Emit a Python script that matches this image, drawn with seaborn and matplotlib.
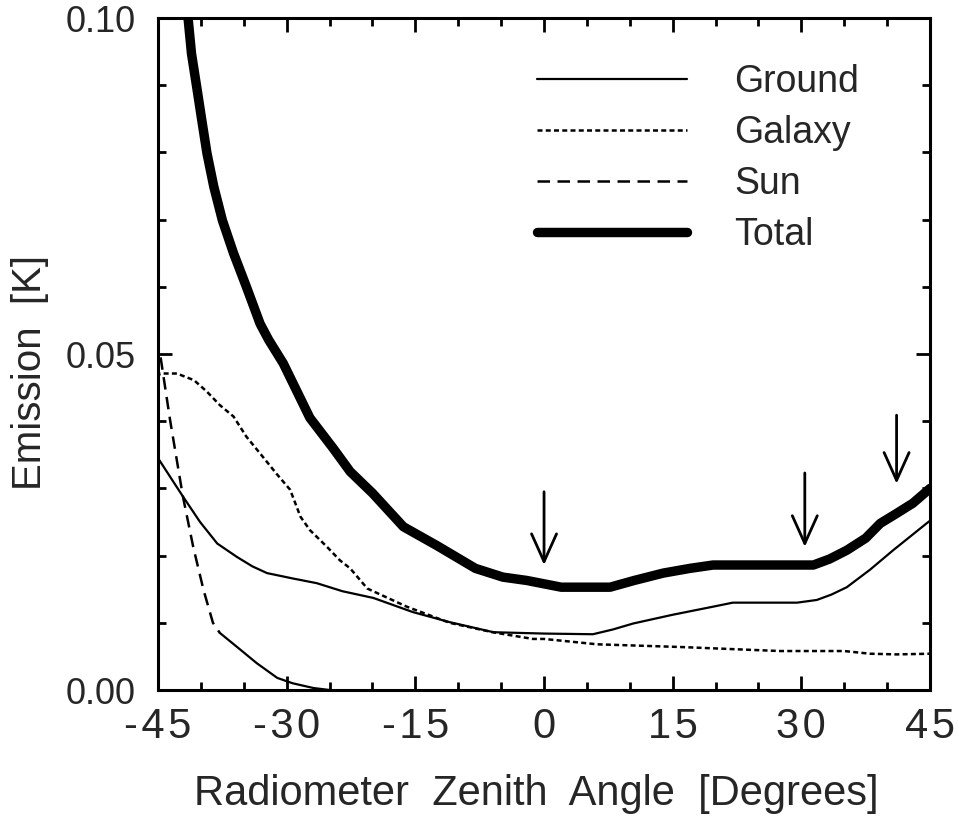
import matplotlib
matplotlib.use("Agg")
import matplotlib.pyplot as plt
import seaborn as sns

# Значения
total_angle = [-42.0, -41.5, -41.1, -40.5, -39.9, -39.3, -38.5, -37.5, -36.2, -34.7, -33.1,
               -32.1, -30.4, -27.3, -24.6, -22.6, -20.0, -16.4, -12.5, -8.0, -4.8, -2.0, 0.0,
               2.0, 7.7, 10.5, 13.9, 17.0, 19.7, 31.4, 33.3, 35.3, 37.5, 39.2, 41.0, 43.0, 45.0]
total_emission = [0.105, 0.100, 0.0947, 0.0898, 0.0848, 0.0799, 0.0749, 0.0699, 0.0650, 0.0600,
                  0.0545, 0.0521, 0.0486, 0.0405, 0.0360, 0.0325, 0.0293, 0.0243, 0.0215, 0.0181,
                  0.0168, 0.0163, 0.0158, 0.0153, 0.0153, 0.0163, 0.0174, 0.0181, 0.0186, 0.0186,
                  0.0195, 0.0208, 0.0226, 0.0248, 0.0262, 0.0278, 0.0300]

ground_angle = [-45.0, -42.1, -40.1, -38.1, -35.8, -34.0, -32.3, -29.3, -26.5, -23.5, -19.9,
                -15.3, -11.0, -5.9, 0.0, 5.7, 8.0, 10.4, 15.0, 19.7, 22.0, 29.5, 31.8, 33.5,
                35.3, 38.0, 40.7, 44.6, 45.0]
ground_emission = [0.0345, 0.0288, 0.0250, 0.0218, 0.0198, 0.0184, 0.0174, 0.0166, 0.0159,
                   0.0147, 0.0137, 0.0116, 0.0101, 0.0086, 0.0084, 0.0083, 0.0090, 0.0099,
                   0.0112, 0.0124, 0.0130, 0.0130, 0.0134, 0.0142, 0.0153, 0.0179, 0.0208,
                   0.0248, 0.0252]

galaxy_angle = [-45.0, -44.8, -42.8, -40.8, -39.3, -37.8, -36.2, -34.7, -33.1, -31.2, -29.6,
                -28.4, -27.3, -25.3, -23.8, -22.6, -20.6, -16.0, -11.0, -6.0, -1.3, 0.0, 6.2,
                15.9, 27.5, 35.0, 38.0, 41.1, 45.0]
galaxy_emission = [0.0465, 0.0471, 0.0471, 0.0461, 0.0444, 0.0424, 0.0407, 0.0377, 0.0352,
                   0.0322, 0.0298, 0.0258, 0.0238, 0.0213, 0.0193, 0.0181, 0.0151, 0.0124,
                   0.0100, 0.0086, 0.0076, 0.0076, 0.0068, 0.0064, 0.0058, 0.0058, 0.0054,
                   0.0053, 0.0054]

sun_angle = [-44.7, -43.6, -42.1, -40.9, -39.7, -38.6, -37.8,
             -35.4, -33.5, -31.1, -29.3, -26.9, -25.0]
sun_emission = [0.0495, 0.0402, 0.0288, 0.0213, 0.0149, 0.0100, 0.0085,
                0.0060, 0.0040, 0.0018, 0.0010, 0.0003, 0.0]
sun_split = 7  # дальше линия Солнца нарисована сплошной

arrow_angle = [0.0, 30.4, 41.1]
arrow_top = [0.0295, 0.0323, 0.0409]
arrow_tip = [0.0186, 0.0213, 0.0307]

hs = '\u200a'
x_ticks = [-45, -30, -15, 0, 15, 30, 45]
x_labels = [hs.join(str(t)) for t in x_ticks]
y_ticks = [0.0, 0.05, 0.10]
y_labels = ['0.00', '0.05', '0.10']

sns.set_style("ticks")
plt.rcParams['font.family'] = ['Liberation Sans', 'DejaVu Sans']

fig = plt.figure(figsize=(9.59, 8.16), dpi=100)
ax = fig.add_axes([0.1648, 0.1544, 0.805, 0.8235])

sns.lineplot(x=ground_angle, y=ground_emission, ax=ax, color='black', linewidth=1.6,
             label='Ground')
sns.lineplot(x=galaxy_angle, y=galaxy_emission, ax=ax, color='black', linewidth=1.8,
             linestyle=(0, (2, 1.3)), label='Galaxy')
sns.lineplot(x=sun_angle[:sun_split], y=sun_emission[:sun_split], ax=ax, color='black',
             linewidth=1.8, linestyle=(0, (5, 3)), label='Sun')
sns.lineplot(x=sun_angle[sun_split - 1:], y=sun_emission[sun_split - 1:], ax=ax, color='black',
             linewidth=1.6)
sns.lineplot(x=total_angle, y=total_emission, ax=ax, color='black', linewidth=6.8,
             label='Total')

for xa, yt, yb in zip(arrow_angle, arrow_top, arrow_tip):
    ax.annotate('', xy=(xa, yb), xytext=(xa, yt),
                arrowprops=dict(arrowstyle='->,head_length=1.0,head_width=0.45',
                                lw=2, color='black', mutation_scale=20,
                                shrinkA=0, shrinkB=0))

ax.set_xlim(-45, 45)
ax.set_ylim(0, 0.10)
ax.set_xticks(x_ticks)
ax.set_xticklabels(x_labels, fontsize=30)
ax.set_xticks(range(-45, 46, 5), minor=True)
ax.set_yticks(y_ticks)
ax.set_yticklabels(y_labels, fontsize=26)
ax.set_yticks([i / 100 for i in range(11)], minor=True)
ax.tick_params(which='both', direction='in', top=True, right=True, width=2, color='black')
ax.tick_params(which='major', length=10)
ax.tick_params(which='minor', length=6)
ax.tick_params(axis='x', which='major', pad=12)
ax.tick_params(axis='y', which='major', pad=16)
for sp in ax.spines.values():
    sp.set_linewidth(2.2)
    sp.set_color('black')

ax.set_xlabel('Radiometer  Zenith  Angle  [Degrees]', fontsize=30)
ax.xaxis.set_label_coords(0.49, -0.125)
ax.set_ylabel('Emission  [K]', fontsize=29)
ax.yaxis.set_label_coords(-0.1415, 0.473)

leg = ax.legend(loc='upper left', bbox_to_anchor=(0.491, 0.931), frameon=False, fontsize=27,
                handlelength=4.0, handletextpad=1.25, labelspacing=0.4, borderpad=0,
                borderaxespad=0)

fig.savefig('out.png', dpi=100)
